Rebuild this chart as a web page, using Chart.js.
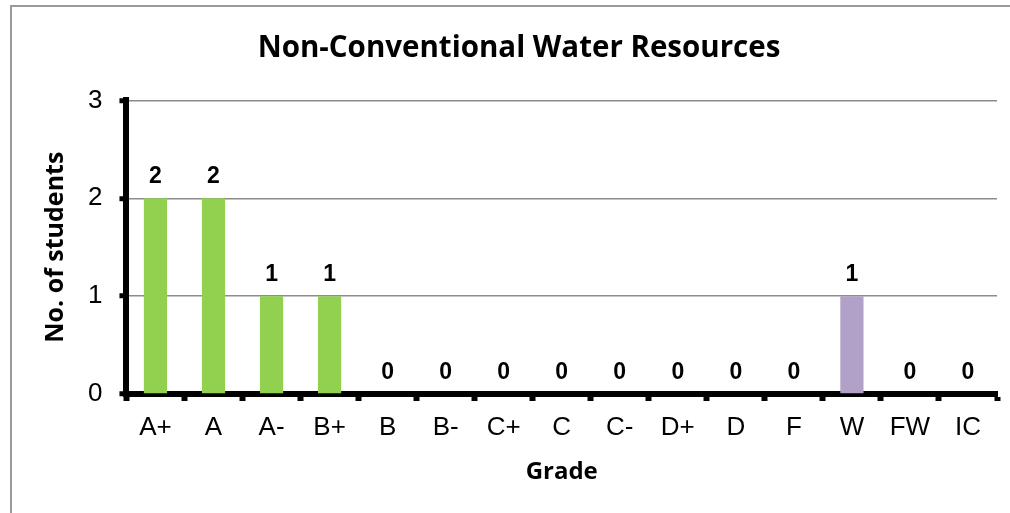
<!DOCTYPE html>
<html>
<head>
<meta charset="utf-8">
<script src="https://cdn.jsdelivr.net/npm/chart.js@4"></script>
<style>
  html, body { margin: 0; padding: 0; background: #fff; }
  #wrap { width: 1010px; height: 513px; position: relative; }
</style>
</head>
<body>
<div id="wrap"><canvas id="gradeChart" width="1010" height="513"></canvas></div>
<script>
// grades and counts
var grades   = ['A+', 'A', 'A-', 'B+', 'B', 'B-', 'C+', 'C', 'C-', 'D+', 'D', 'F', 'W', 'FW', 'IC'];
var students = [2, 2, 1, 1, 0, 0, 0, 0, 0, 0, 0, 0, 1, 0, 0];
var barColors = ['#92D050', '#92D050', '#92D050', '#92D050', '#92D050', '#92D050', '#92D050',
                 '#92D050', '#92D050', '#92D050', '#92D050', '#92D050', '#B1A0C7', '#92D050', '#92D050'];

// frame round the chart, cut by the window on the right and bottom
var framePlugin = {
  id: 'frame',
  beforeDraw: function(chart) {
    var ctx = chart.ctx;
    ctx.save();
    ctx.fillStyle = '#fff';
    ctx.fillRect(0, 0, chart.width, chart.height);
    ctx.strokeStyle = '#999';
    ctx.lineWidth = 2;
    ctx.strokeRect(11, 6, 1100, 600);
    ctx.restore();
  }
};

// value labels over every bar
var valueLabels = {
  id: 'valueLabels',
  afterDatasetsDraw: function(chart) {
    var ctx = chart.ctx;
    var meta = chart.getDatasetMeta(0);
    ctx.save();
    ctx.font = 'bold 23px "Liberation Sans", Arial, sans-serif';
    ctx.fillStyle = '#000';
    ctx.textAlign = 'center';
    ctx.textBaseline = 'alphabetic';
    meta.data.forEach(function(bar, i) {
      ctx.fillText(students[i], bar.x, bar.y - 15);
    });
    ctx.restore();
  }
};

var ctx = document.getElementById('gradeChart').getContext('2d');
var gradeChart = new Chart(ctx, {
  type: 'bar',
  data: {
    labels: grades,
    datasets: [{
      label: 'No. of students',
      data: students,
      backgroundColor: barColors,
      barPercentage: 0.4,
      categoryPercentage: 1
    }]
  },
  options: {
    responsive: false,
    animation: false,
    layout: { padding: { left: 41, right: 13, top: 31, bottom: 26 } },
    plugins: {
      legend: { display: false },
      tooltip: { enabled: false },
      title: {
        display: true,
        text: 'Non-Conventional Water Resources',
        color: '#000',
        font: { family: '"Open Sans", sans-serif', size: 29.5, weight: 'bold' },
        padding: { top: 0, bottom: 34 }
      }
    },
    scales: {
      x: {
        offset: true,
        grid: {
          offset: true,
          drawOnChartArea: false,
          drawTicks: true,
          tickLength: 7,
          tickWidth: 6,
          tickColor: '#000'
        },
        border: { display: true, color: '#000', width: 6 },
        ticks: {
          color: '#000',
          padding: 11,
          font: { family: '"Liberation Sans", Arial, sans-serif', size: 26 }
        },
        title: {
          display: true,
          text: 'Grade',
          color: '#000',
          font: { family: '"Open Sans", sans-serif', size: 24, weight: 'bold' },
          padding: { top: 4, bottom: 0 }
        }
      },
      y: {
        min: 0,
        max: 3,
        ticks: {
          stepSize: 1,
          color: '#000',
          padding: 17,
          font: { family: '"Liberation Sans", Arial, sans-serif', size: 26 }
        },
        grid: {
          color: '#8c8c8c',
          lineWidth: 1.5,
          tickLength: 7,
          tickWidth: 5,
          tickColor: '#000'
        },
        border: { display: true, color: '#000', width: 6 },
        title: {
          display: true,
          text: 'No. of students',
          color: '#000',
          font: { family: '"Open Sans", sans-serif', size: 25, weight: 'bold' },
          padding: { top: 0, bottom: 0 }
        }
      }
    }
  },
  plugins: [framePlugin, valueLabels]
});
</script>
</body>
</html>
